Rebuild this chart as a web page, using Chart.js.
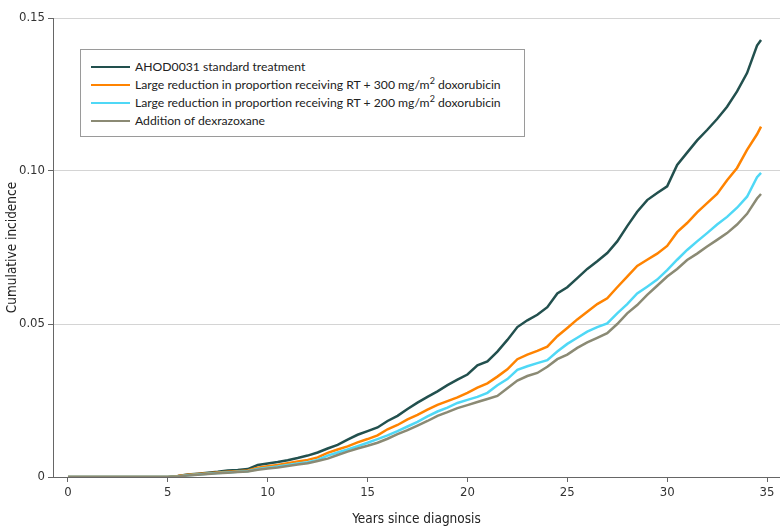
<!DOCTYPE html>
<html>
<head>
<meta charset="utf-8">
<script src="https://cdn.jsdelivr.net/npm/chart.js@4.4.1/dist/chart.umd.min.js"></script>
<style>
  body { margin: 0; background: #fff; }
  #wrap { position: relative; width: 780px; height: 532px; }
  #legend {
    position: absolute; left: 80px; top: 49px; width: 445px; height: 88px;
    border: 1px solid #9a9a9a; background: #fff; box-sizing: border-box;
    font-family: Lato, sans-serif; font-size: 12.2px; color: #222;
    padding-top: 8px; white-space: nowrap;
  }
  .row { height: 18px; line-height: 18px; display: flex; align-items: center; }
  .swatch { width: 39px; height: 2px; margin-left: 10px; margin-right: 5px; flex: none; }
  sup { font-size: 9px; line-height: 0; vertical-align: 5px; }
</style>
</head>
<body>
<div id="wrap">
  <canvas id="myChart" width="780" height="532"></canvas>
  <div id="legend"></div>
</div>
<script>
'use strict';

// years on the time grid
let years = [0, 5, 5.5, 6, 6.5, 7, 7.5, 8, 8.5, 9, 9.5, 10, 10.5, 11, 11.5, 12, 12.5, 13, 13.5, 14, 14.5,
  15, 15.5, 16, 16.5, 17, 17.5, 18, 18.5, 19, 19.5, 20, 20.5, 21, 21.5, 22, 22.5, 23, 23.5, 24, 24.5,
  25, 25.5, 26, 26.5, 27, 27.5, 28, 28.5, 29, 29.5, 30, 30.5, 31, 31.5, 32, 32.5, 33, 33.5, 34, 34.5, 34.7];

let standard = [0, 0, 0.0003, 0.0008, 0.0011, 0.0014, 0.0017, 0.0021, 0.0023, 0.0026, 0.0039, 0.0044, 0.0049, 0.0055, 0.0062, 0.0070, 0.0080, 0.0093, 0.0105, 0.0122, 0.0138,
  0.0150, 0.0162, 0.0183, 0.0200, 0.0222, 0.0243, 0.0262, 0.0280, 0.0300, 0.0318, 0.0335, 0.0365, 0.0378, 0.0410, 0.0448, 0.0490, 0.0512, 0.0530, 0.0555, 0.0600,
  0.0620, 0.0650, 0.0680, 0.0705, 0.0732, 0.0770, 0.0820, 0.0867, 0.0905, 0.0928, 0.0950, 0.1020, 0.1060, 0.1100, 0.1134, 0.1170, 0.1210, 0.1260, 0.1320, 0.1410, 0.1428];

let rt300 = [0, 0, 0.0003, 0.0007, 0.0010, 0.0012, 0.0015, 0.0017, 0.0019, 0.0021, 0.0030, 0.0035, 0.0039, 0.0045, 0.0051, 0.0056, 0.0064, 0.0079, 0.0090, 0.0100, 0.0113,
  0.0124, 0.0136, 0.0156, 0.0170, 0.0188, 0.0203, 0.0220, 0.0236, 0.0248, 0.0260, 0.0275, 0.0292, 0.0306, 0.0328, 0.0352, 0.0385, 0.0400, 0.0412, 0.0426, 0.0460,
  0.0487, 0.0515, 0.0540, 0.0565, 0.0584, 0.0620, 0.0655, 0.0690, 0.0710, 0.0730, 0.0755, 0.0800, 0.0830, 0.0865, 0.0895, 0.0925, 0.0970, 0.1010, 0.1069, 0.1120, 0.1145];

let rt200 = [0, 0, 0.0002, 0.0006, 0.0008, 0.0011, 0.0013, 0.0015, 0.0017, 0.0019, 0.0026, 0.0030, 0.0034, 0.0039, 0.0044, 0.0048, 0.0056, 0.0070, 0.0080, 0.0090, 0.0101,
  0.0112, 0.0124, 0.0136, 0.0150, 0.0165, 0.0180, 0.0198, 0.0214, 0.0227, 0.0242, 0.0252, 0.0262, 0.0275, 0.0300, 0.0320, 0.0350, 0.0362, 0.0372, 0.0382, 0.0410,
  0.0435, 0.0455, 0.0475, 0.0490, 0.0502, 0.0535, 0.0565, 0.0600, 0.0622, 0.0645, 0.0676, 0.0710, 0.0742, 0.0770, 0.0797, 0.0825, 0.0850, 0.0880, 0.0916, 0.0980, 0.0994];

let dexrazoxane = [0, 0, 0.0002, 0.0005, 0.0007, 0.0010, 0.0012, 0.0014, 0.0016, 0.0018, 0.0024, 0.0028, 0.0031, 0.0036, 0.0041, 0.0045, 0.0052, 0.0060, 0.0072, 0.0083, 0.0093,
  0.0102, 0.0112, 0.0125, 0.0140, 0.0153, 0.0168, 0.0183, 0.0200, 0.0212, 0.0225, 0.0235, 0.0245, 0.0255, 0.0265, 0.0290, 0.0315, 0.0330, 0.0340, 0.0360, 0.0385,
  0.0400, 0.0422, 0.0440, 0.0455, 0.0470, 0.0500, 0.0535, 0.0562, 0.0595, 0.0625, 0.0655, 0.0680, 0.0709, 0.0730, 0.0753, 0.0775, 0.0797, 0.0825, 0.0860, 0.0910, 0.0925];

let xTicks = [0, 5, 10, 15, 20, 25, 30, 35];
let yTicks = [0, 0.05, 0.10, 0.15];
let yTickLabels = ['0', '0.05', '0.10', '0.15'];

let seriesNames = ['AHOD0031 standard treatment',
  'Large reduction in proportion receiving RT + 300 mg/m<sup>2</sup> doxorubicin',
  'Large reduction in proportion receiving RT + 200 mg/m<sup>2</sup> doxorubicin',
  'Addition of dexrazoxane'];
let seriesColors = ['#22504e', '#ff8300', '#4fd8f6', '#8b8a74'];
let seriesValues = [standard, rt300, rt200, dexrazoxane];

function points(values) {
  return years.map((x, i) => ({ x: x, y: values[i] }));
}

let datasets = [];
for (let i = 0; i < seriesValues.length; i++) {
  datasets.push({
    label: seriesNames[i].replace('<sup>2</sup>', '²'),
    data: points(seriesValues[i]),
    borderColor: seriesColors[i],
    borderWidth: 2.5,
    pointRadius: 0,
    tension: 0,
    fill: false,
    order: 3 - i
  });
}

// html legend
let legend = document.getElementById('legend');
for (let i = 0; i < seriesNames.length; i++) {
  let row = document.createElement('div');
  row.className = 'row';
  row.innerHTML = '<span class="swatch" style="background:' + seriesColors[i] + '"></span><span>' + seriesNames[i] + '</span>';
  legend.appendChild(row);
}

let tickFont = { family: "'DejaVu Sans Condensed', 'Liberation Sans Narrow', sans-serif", size: 13 };

const config = {
  type: 'line',
  data: { datasets: datasets },
  options: {
    responsive: false,
    animation: false,
    layout: { padding: { top: 18, right: 0, left: 0, bottom: 0 } },
    plugins: { legend: { display: false }, tooltip: { enabled: false } },
    scales: {
      x: {
        type: 'linear',
        min: -0.75,
        max: 35.65,
        afterBuildTicks: (scale) => { scale.ticks = xTicks.map(v => ({ value: v })); },
        afterFit: (scale) => { scale.height = 55; },
        ticks: { color: '#333', font: tickFont, padding: 3, maxRotation: 0 },
        grid: { drawOnChartArea: false, tickLength: 5, tickColor: '#666' },
        border: { color: '#666', width: 1 },
        title: { display: true, text: 'Years since diagnosis', color: '#222', font: { family: tickFont.family, size: 13.5 }, padding: { top: 0 } }
      },
      y: {
        min: 0,
        max: 0.15,
        afterBuildTicks: (scale) => { scale.ticks = yTicks.map(v => ({ value: v })); },
        afterFit: (scale) => { scale.width = 53; },
        ticks: { color: '#333', font: tickFont, padding: 3, callback: (v) => yTickLabels[yTicks.indexOf(v)] },
        grid: { color: '#d4d4d4', tickLength: 5, tickColor: '#666' },
        border: { color: '#666', width: 1 },
        title: { display: true, text: 'Cumulative incidence', color: '#222', font: { family: tickFont.family, size: 13.5 }, padding: { bottom: 4 } }
      }
    }
  }
};

var myChart = new Chart(document.getElementById('myChart'), config);
</script>
</body>
</html>
